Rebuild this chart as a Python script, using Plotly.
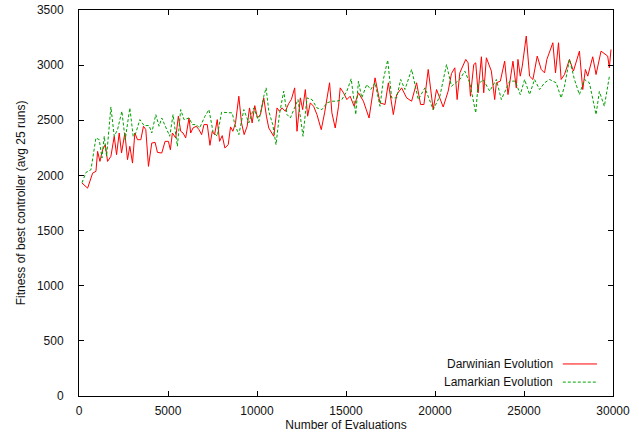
import plotly.graph_objects as go

# Darwinian Evolution (red, solid)
darwin_x = [168, 485, 765, 952, 1045, 1176, 1326, 1475, 1606, 1792, 1979, 2110, 2259, 2390, 2576, 2726, 2856, 3006, 3137, 3286,
            3473, 3622, 3753, 3902, 4089, 4275, 4406, 4649, 4836, 5022, 5134, 5246, 5433, 5582, 5713, 5844, 5993, 6180, 6273, 6404,
            6590, 6740, 6889, 7020, 7207, 7356, 7487, 7617, 7767, 7897, 8047, 8196, 8383, 8514, 8644, 8794, 8980, 9130, 9279, 9447,
            9578, 9727, 9876, 10026, 10194, 10381, 10530, 10661, 10941, 11127, 11258, 11407, 11594, 11781, 11930, 12117, 12247, 12434, 12565, 12715,
            12845, 12994, 13181, 13368, 13610, 13797, 14077, 14208, 14395, 14581, 14675, 14861, 15048, 15232, 15456, 15699, 15979, 16296, 16632, 16912,
            17192, 17379, 17659, 17846, 18126, 18406, 18686, 18966, 19190, 19377, 19619, 19899, 20086, 20460, 20740, 20926, 21113, 21244, 21393, 21729,
            21860, 21991, 22177, 22289, 22420, 22607, 22737, 22887, 23167, 23353, 23447, 23671, 23914, 24100, 24380, 24567, 24660, 24791, 24903, 25127,
            25314, 25501, 25743, 25967, 26154, 26285, 26621, 26770, 26938, 27087, 27274, 27554, 27778, 28114, 28301, 28450, 28581, 28861, 29048, 29328,
            29701, 29795, 29888]
darwin_y = [1931, 1885, 2021, 2037, 2218, 2127, 2233, 2279, 2127, 2173, 2355, 2188, 2385, 2203, 2385, 2143, 2264, 2112, 2385, 2324,
            2324, 2446, 2415, 2082, 2294, 2300, 2209, 2203, 2309, 2309, 2233, 2385, 2340, 2537, 2400, 2385, 2340, 2521, 2385, 2430,
            2446, 2415, 2370, 2461, 2461, 2273, 2400, 2370, 2506, 2309, 2361, 2249, 2279, 2440, 2400, 2476, 2718, 2476, 2370, 2446,
            2612, 2476, 2633, 2521, 2552, 2703, 2537, 2430, 2355, 2612, 2582, 2612, 2582, 2652, 2688, 2794, 2400, 2703, 2597, 2779,
            2537, 2658, 2627, 2552, 2415, 2567, 2840, 2567, 2430, 2627, 2794, 2749, 2688, 2718, 2627, 2749, 2673, 2521, 2885, 2658,
            2643, 2840, 2552, 2733, 2794, 2703, 2673, 2840, 2643, 2643, 2961, 2597, 2779, 2621, 2764, 2924, 2976, 2688, 2930, 3052,
            3021, 2718, 3006, 3021, 2749, 3076, 2749, 3067, 2946, 2688, 2840, 2855, 3036, 2733, 3036, 2794, 3052, 2900, 2991, 3264,
            2900, 2870, 3082, 2961, 2930, 3052, 3203, 2930, 3203, 2870, 2915, 3052, 2946, 3127, 2779, 2961, 2900, 3076, 2915, 3127,
            3082, 2976, 3142]

# Lamarkian Evolution (green, dashed)
lamarck_x = [168, 392, 672, 952, 1139, 1288, 1419, 1550, 1792, 1979, 2166, 2409, 2595, 2856, 3043, 3193, 3417, 3659, 3939, 4089,
             4313, 4500, 4649, 4873, 5097, 5284, 5526, 5713, 5900, 6180, 6367, 6590, 6777, 7076, 7300, 7524, 7767, 8009, 8327, 8607,
             8756, 8980, 9260, 9540, 9820, 10101, 10381, 10512, 10661, 10885, 11071, 11258, 11501, 11687, 11874, 12061, 12304, 12584, 12808, 13088,
             13368, 13648, 13928, 14208, 14488, 14768, 15048, 15291, 15549, 15699, 15885, 16166, 16390, 16632, 16912, 17099, 17342, 17566, 17846, 18070,
             18313, 18686, 19059, 19433, 19899, 20273, 20646, 20926, 21393, 21673, 21953, 22289, 22420, 22700, 23073, 23447, 23727, 24194, 24511, 24791,
             25034, 25314, 25594, 25874, 26154, 26434, 26808, 27087, 27274, 27554, 27834, 28114, 28394, 28674, 29048, 29234, 29514, 29795]
lamarck_y = [1934, 2027, 2052, 2340, 2324, 2158, 2355, 2173, 2621, 2355, 2415, 2582, 2324, 2612, 2355, 2385, 2506, 2452, 2452, 2385,
             2552, 2446, 2521, 2430, 2355, 2552, 2264, 2597, 2506, 2521, 2461, 2461, 2430, 2537, 2597, 2400, 2355, 2573, 2573, 2567,
             2461, 2370, 2597, 2476, 2612, 2491, 2718, 2794, 2582, 2461, 2279, 2552, 2764, 2552, 2521, 2597, 2688, 2355, 2703, 2688,
             2612, 2597, 2658, 2673, 2673, 2688, 2764, 2876, 2552, 2855, 2703, 2824, 2779, 2840, 2627, 2870, 3046, 2703, 2703, 2870,
             2779, 2961, 2688, 2794, 2597, 2718, 3006, 2809, 2870, 2946, 2840, 2567, 2824, 2870, 2764, 2870, 2688, 2855, 2855, 2733,
             2870, 2733, 2870, 2779, 2840, 2870, 2840, 2703, 2809, 3052, 2870, 2733, 2870, 2840, 2552, 2761, 2627, 2897]

series_names = ["Darwinian Evolution", "Lamarkian Evolution"]
x_ticks = [0, 5000, 10000, 15000, 20000, 25000, 30000]
y_ticks = [0, 500, 1000, 1500, 2000, 2500, 3000, 3500]

RED = "#ff0000"
GREEN = "#00a000"
FONT = "Liberation Sans, Arial, sans-serif"

fig = go.Figure()
fig.add_trace(go.Scatter(x=darwin_x, y=darwin_y, mode="lines", name=series_names[0],
                         line=dict(color=RED, width=1), showlegend=False))
fig.add_trace(go.Scatter(x=lamarck_x, y=lamarck_y, mode="lines", name=series_names[1],
                         line=dict(color=GREEN, width=1, dash="3px,2px"), showlegend=False))

axis_common = dict(showline=True, linecolor="black", linewidth=1, mirror="ticks",
                   ticks="inside", ticklen=5, tickcolor="black", showgrid=False, zeroline=False,
                   automargin=False, tickfont=dict(family=FONT, size=12, color="#111"))

fig.update_xaxes(range=[0, 30000], tickvals=x_ticks, ticktext=[str(v) for v in x_ticks],
                 ticklabelstandoff=4,
                 title=dict(text="Number of Evaluations", font=dict(family=FONT, size=12, color="#111"), standoff=2),
                 **axis_common)
fig.update_yaxes(range=[0, 3500], tickvals=y_ticks, ticktext=[str(v) for v in y_ticks],
                 ticklabelstandoff=12,
                 title=dict(text="Fitness of best controller (avg 25 runs)", font=dict(family=FONT, size=12, color="#111"), standoff=8),
                 **axis_common)

# gnuplot-style key: text right-aligned, line sample to the right
key_rows = [(series_names[0], RED, "solid", 0.083), (series_names[1], GREEN, "3px,2px", 0.036)]
for name, color, dash, yp in key_rows:
    fig.add_annotation(x=0.891, y=yp, xref="paper", yref="paper", text=name, showarrow=False,
                       xanchor="right", yanchor="middle", font=dict(family=FONT, size=12, color="#111"))
    fig.add_shape(type="line", xref="paper", yref="paper", x0=0.906, x1=0.970, y0=yp, y1=yp,
                  line=dict(color=color, width=1, dash=dash))

fig.update_layout(width=639, height=436, margin=dict(l=79, r=26, t=10, b=40),
                  plot_bgcolor="white", paper_bgcolor="white", showlegend=False)

fig.write_html("out.html", config={"displayModeBar": False},
               post_script="document.body.style.margin='0';document.body.style.overflow='hidden';")
